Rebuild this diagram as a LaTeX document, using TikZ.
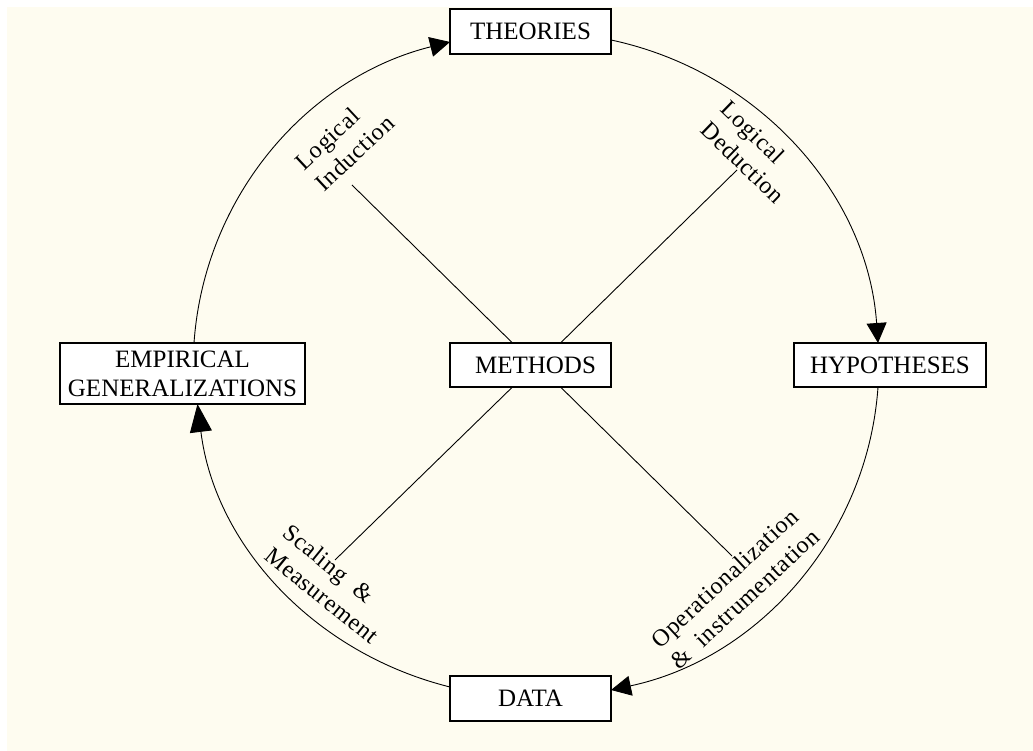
\documentclass[tikz,border=0pt]{standalone}
\usepackage{fontspec}
\setmainfont{Liberation Serif}
\newfontfamily\labelfont{Liberation Serif}[LetterSpace=3]
\usepackage{xcolor}
\usetikzlibrary{arrows.meta, positioning}
\definecolor{cream}{RGB}{254,252,240}

\begin{document}
\begin{tikzpicture}[
    x=1pt, y=1pt,
    box/.style={rectangle, draw, line width=1.4pt, fill=white, align=center, inner sep=0pt, outer sep=0pt, minimum width=161pt, minimum height=45pt, font=\fontsize{25}{29}\selectfont},
    lab/.style={align=left, inner sep=0pt, font=\labelfont\fontsize{24}{29}\selectfont},
    spoke/.style={line width=0.9pt},
    arrow/.style={line width=0.9pt, -{Triangle[length=20pt,width=20pt]}}
]

% Background
\useasboundingbox (0,0) rectangle (1033,751);
\fill[white] (0,0) rectangle (1033,751);
\fill[cream] (7,0) rectangle (1033,744);

% Boxes
\node[box, minimum height=44pt] (methods) at (530.5,386) {\hspace*{10pt}METHODS};
\node[box, above=289pt of methods] (theories) {THEORIES};
\node[box, below=289pt of methods] (data) {DATA};
\node[box, right=183pt of methods, minimum width=192pt, minimum height=44pt] (hypotheses) {HYPOTHESES};
\node[box, left=145pt of methods, yshift=-8.5pt, minimum width=245pt, minimum height=61pt] (empirical) {EMPIRICAL\\GENERALIZATIONS};

% Spoke ends
\coordinate (indEnd) at (352,566);
\coordinate (dedEnd) at (737,581);
\coordinate (scaEnd) at (335,191);
\coordinate (opEnd) at (732,195);

% Labels
\node[lab, rotate=43] (induction) at (344.6,608.6) {Logical\\Induction};
\node[lab, rotate=-44] (deduction) at (753,599) {Logical\\Deduction};
\node[lab, rotate=-39] (scaling) at (331,167) {Scaling\ \ \&\\Measurement};
\node[lab, rotate=43] (operation) at (735,163) {Operationalization\\\&\ \ instrumentation};

% Spokes
\draw[spoke] ([xshift=-18pt]methods.north) -- (indEnd);
\draw[spoke] ([xshift=30pt]methods.north) -- (dedEnd);
\draw[spoke] ([xshift=-18pt]methods.south) -- (scaEnd);
\draw[spoke] ([xshift=30pt]methods.south) -- (opEnd);

% Cycle
\draw[arrow] ([xshift=11.5pt]empirical.north) to[out=86, in=194, looseness=0.95] ([yshift=-10.5pt]theories.west);
\draw[arrow] ([yshift=-8.5pt]theories.east) to[out=-12, in=94, looseness=0.95] ([xshift=-12pt]hypotheses.north);
\draw[arrow] ([xshift=-12pt]hypotheses.south) to[out=266, in=12, looseness=0.95] ([yshift=8.5pt]data.east);
\draw[arrow, -{Triangle[length=28pt,width=22pt]}] ([yshift=11.5pt]data.west) to[out=166, in=277, looseness=0.95] ([xshift=15pt]empirical.south);

\end{tikzpicture}
\end{document}
